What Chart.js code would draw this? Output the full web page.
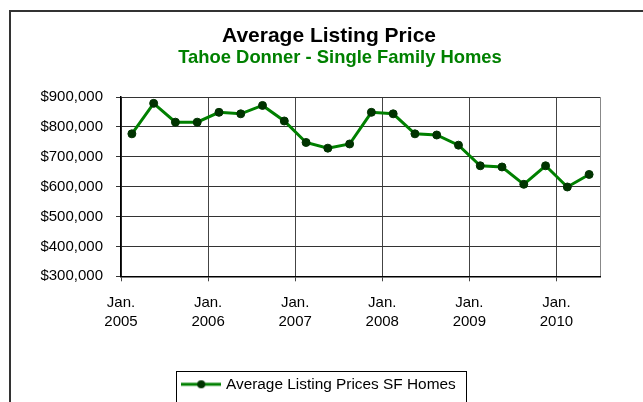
<!DOCTYPE html>
<html>
<head>
<meta charset="utf-8">
<script src="https://cdn.jsdelivr.net/npm/chart.js@4"></script>
<style>
  html, body { margin: 0; padding: 0; background: #fff; overflow: hidden; }
  #wrap { position: relative; width: 643px; height: 402px; }
</style>
</head>
<body>
<div id="wrap"><canvas id="chart"></canvas></div>
<script>
    // --- Data ---
    const quarters = ['Q1 2005', 'Q2 2005', 'Q3 2005', 'Q4 2005',
                      'Q1 2006', 'Q2 2006', 'Q3 2006', 'Q4 2006',
                      'Q1 2007', 'Q2 2007', 'Q3 2007', 'Q4 2007',
                      'Q1 2008', 'Q2 2008', 'Q3 2008', 'Q4 2008',
                      'Q1 2009', 'Q2 2009', 'Q3 2009', 'Q4 2009',
                      'Q1 2010', 'Q2 2010'];
    const avgPrices = [777000, 879000, 816000, 816000,
                       849000, 844000, 872000, 820000,
                       748000, 729000, 743000, 849000,
                       844000, 777000, 773000, 739000,
                       670000, 666000, 608000, 670000,
                       599000, 641000];
    // x ticks sit on the boundary before each January quarter
    const tickPositions = [-0.5, 3.5, 7.5, 11.5, 15.5, 19.5, 21.5];
    const tickLabels = [['Jan.', '2005'], ['Jan.', '2006'], ['Jan.', '2007'],
                        ['Jan.', '2008'], ['Jan.', '2009'], ['Jan.', '2010'], ''];

    const TITLE = 'Average Listing Price';
    const SUBTITLE = 'Tahoe Donner - Single Family Homes';
    const FONT = "'Liberation Sans', Arial, sans-serif";
    const LINE_GREEN = '#008000';
    const DOT_GREEN = '#003300';

    // --- Legend sample: line with a dot ---
    const sample = document.createElement('canvas');
    sample.width = 40;
    sample.height = 12;
    const sctx = sample.getContext('2d');
    sctx.strokeStyle = LINE_GREEN;
    sctx.lineWidth = 3;
    sctx.beginPath();
    sctx.moveTo(0, 6);
    sctx.lineTo(40, 6);
    sctx.stroke();
    sctx.fillStyle = DOT_GREEN;
    sctx.beginPath();
    sctx.arc(20, 6, 4, 0, Math.PI * 2);
    sctx.fill();

    function shiftBox(box, dx) {
      box.left += dx;
      box.right += dx;
    }

    // --- Plugins ---
    const frame = {
      id: 'frame',
      afterLayout(chart) {
        // Excel places title, subtitle and legend off the plot centre
        chart.boxes.forEach(box => {
          const text = box.options && box.options.text;
          if (text === TITLE) shiftBox(box, 29);
          else if (text === SUBTITLE) shiftBox(box, 40);
        });
        shiftBox(chart.legend, 20);
      },
      beforeDraw(chart) {
        const ctx = chart.ctx;
        ctx.save();
        ctx.strokeStyle = '#333';
        ctx.lineWidth = 2;
        ctx.strokeRect(10, 11, 800, 600);
        ctx.restore();
      },
      afterDraw(chart) {
        const hb = chart.legend.legendHitBoxes[0];
        if (!hb) return;
        const ctx = chart.ctx;
        const cy = hb.top + hb.height / 2;
        ctx.save();
        ctx.strokeStyle = '#000';
        ctx.lineWidth = 1;
        ctx.strokeRect(Math.round(hb.left - 8) + 0.5, Math.round(cy - 13) + 0.5, Math.round(hb.width + 18), 40);
        ctx.restore();
      }
    };

    // --- Chart ---
    new Chart(document.getElementById('chart'), {
      type: 'line',
      data: {
        datasets: [{
          label: 'Average Listing Prices SF Homes',
          data: avgPrices.map((v, i) => ({ x: i, y: v })),
          borderColor: LINE_GREEN,
          borderWidth: 3,
          pointRadius: 4,
          pointBackgroundColor: DOT_GREEN,
          pointBorderColor: DOT_GREEN,
          pointBorderWidth: 1,
          tension: 0
        }]
      },
      options: {
        responsive: true,
        maintainAspectRatio: false,
        animation: false,
        layout: { padding: { left: 0, right: 43, top: 0, bottom: 0 } },
        plugins: {
          title: {
            display: true,
            text: TITLE,
            color: '#000',
            font: { family: FONT, size: 21, weight: 'bold', lineHeight: 1 },
            padding: { top: 26, bottom: 0 }
          },
          subtitle: {
            display: true,
            text: SUBTITLE,
            color: LINE_GREEN,
            font: { family: FONT, size: 18.4, weight: 'bold', lineHeight: 1.2 },
            padding: { top: 0, bottom: 28 }
          },
          legend: {
            position: 'bottom',
            labels: {
              color: '#000',
              font: { family: FONT, size: 15.4 },
              usePointStyle: true,
              pointStyle: sample,
              pointStyleWidth: 34,
              padding: 10
            }
          },
          tooltip: {
            callbacks: {
              title: items => quarters[items[0].parsed.x],
              label: item => '$' + item.parsed.y.toLocaleString('en-US')
            }
          }
        },
        scales: {
          x: {
            type: 'linear',
            min: -0.5,
            max: 21.5,
            afterFit: scale => { scale.height = 90.3; },
            afterBuildTicks: scale => {
              scale.ticks = tickPositions.map(v => ({ value: v }));
            },
            ticks: {
              color: '#000',
              font: { family: FONT, size: 15, lineHeight: 1.25 },
              padding: 12,
              maxRotation: 0,
              autoSkip: false,
              callback: (value, index) => tickLabels[index]
            },
            grid: {
              color: c => (c.tick && c.tick.value === 21.5) ? '#888' : '#444',
              tickColor: c => (c.tick && c.tick.value === 21.5) ? 'rgba(0,0,0,0)' : '#444',
              tickLength: 5,
              lineWidth: 1
            },
            border: { color: '#000', width: 1.5 }
          },
          y: {
            min: 300000,
            max: 900000,
            afterFit: scale => { scale.width = 121; },
            ticks: {
              stepSize: 100000,
              color: '#000',
              font: { family: FONT, size: 15 },
              padding: 13,
              callback: v => '$' + v.toLocaleString('en-US')
            },
            grid: { color: '#333', tickLength: 5, lineWidth: 1 },
            border: { color: '#000', width: 1.5 }
          }
        }
      },
      plugins: [frame]
    });
</script>
</body>
</html>
